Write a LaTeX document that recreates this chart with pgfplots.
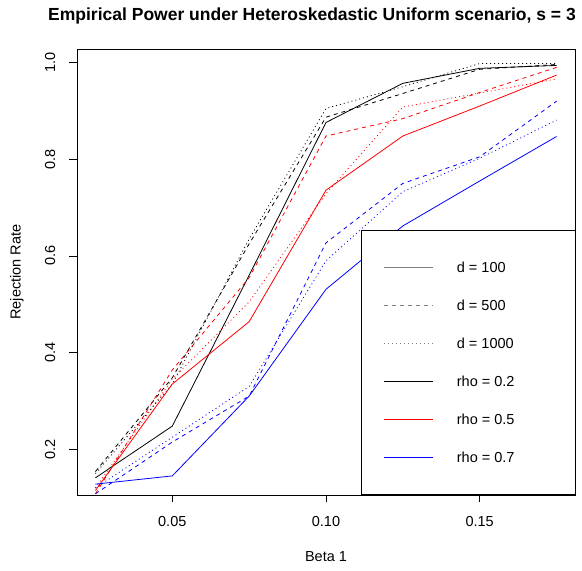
\documentclass[border=0pt]{standalone}
\usepackage{pgfplots}
\pgfplotsset{compat=1.18}
\usepackage{fontspec}
\setmainfont{Liberation Sans}
\definecolor{rgray}{RGB}{128,128,128}
\definecolor{rred}{RGB}{255,0,0}
\definecolor{rblue}{RGB}{0,0,255}
\newcommand{\basefont}{\fontsize{14.5}{17}\selectfont}
\begin{document}
\begin{tikzpicture}
\useasboundingbox (0pt,0pt) rectangle (582pt,571pt);
% title
\node[anchor=base west, inner sep=0pt, font=\bfseries\fontsize{17.5}{20}\selectfont]
  at (48pt,550.7pt) {Empirical Power under Heteroskedastic Uniform scenario, s = 3};
\begin{axis}[
    at={(77pt,76pt)}, anchor=south west,
    scale only axis,
    width=498pt, height=446pt,
    xmin=0.019, xmax=0.181,
    ymin=0.1055, ymax=1.028,
    axis line style={line width=0.8pt},
    tick style={line width=0.8pt, black},
    tick align=outside,
    tick pos=left,
    major tick length=7.5pt,
    xtick={0.05,0.10,0.15},
    xticklabels={0.05,0.10,0.15},
    ytick={0.2,0.4,0.6,0.8,1.0},
    yticklabels={0.2,0.4,0.6,0.8,1.0},
    /pgf/number format/assume math mode=true,
    every tick label/.append style={font=\basefont},
    xticklabel style={anchor=north, inner sep=0pt, yshift=-14pt},
    yticklabel style={xshift=-14pt, rotate=90, anchor=south, inner sep=0pt},
    xlabel={Beta 1},
    ylabel={Rejection Rate},
    every axis x label/.style={at={(axis description cs:0.5,-0.1383)}, anchor=center, font=\basefont},
    every axis y label/.style={at={(axis description cs:-0.1205,0.5)}, rotate=90, anchor=center, font=\basefont},
    every axis plot/.append style={line width=0.8pt},
]
% rho = 0.2
\addplot[black, solid] coordinates {
  (0.025,0.141) (0.05,0.248) (0.075,0.560) (0.10,0.876) (0.125,0.957) (0.15,0.988) (0.175,0.994)};
\addplot[black, dash pattern=on 4pt off 4pt] coordinates {
  (0.025,0.154) (0.05,0.348) (0.075,0.625) (0.10,0.887) (0.125,0.936) (0.15,0.986) (0.175,0.996)};
\addplot[black, dash pattern=on 1pt off 3pt] coordinates {
  (0.025,0.150) (0.05,0.335) (0.075,0.635) (0.10,0.905) (0.125,0.950) (0.15,0.998) (0.175,0.998)};
% rho = 0.5
\addplot[rred, solid] coordinates {
  (0.025,0.115) (0.05,0.335) (0.075,0.464) (0.10,0.736) (0.125,0.848) (0.15,0.910) (0.175,0.974)};
\addplot[rred, dash pattern=on 4pt off 4pt] coordinates {
  (0.025,0.108) (0.05,0.364) (0.075,0.555) (0.10,0.848) (0.125,0.884) (0.15,0.938) (0.175,0.990)};
\addplot[rred, dash pattern=on 1pt off 3pt] coordinates {
  (0.025,0.120) (0.05,0.345) (0.075,0.505) (0.10,0.729) (0.125,0.908) (0.15,0.937) (0.175,0.966)};
% rho = 0.7
\addplot[rblue, solid] coordinates {
  (0.025,0.128) (0.05,0.145) (0.075,0.310) (0.10,0.531) (0.125,0.662) (0.15,0.755) (0.175,0.847)};
\addplot[rblue, dash pattern=on 4pt off 4pt] coordinates {
  (0.025,0.108) (0.05,0.215) (0.075,0.310) (0.10,0.627) (0.125,0.750) (0.15,0.805) (0.175,0.920)};
\addplot[rblue, dash pattern=on 1pt off 3pt] coordinates {
  (0.025,0.120) (0.05,0.225) (0.075,0.330) (0.10,0.590) (0.125,0.733) (0.15,0.802) (0.175,0.881)};
\end{axis}
% legend box, as R's legend() draws it
\draw[line width=0.8pt, fill=white] (361.7pt,77pt) rectangle (575pt,341pt);
\draw[line width=0.9pt, draw=rgray] (384pt,303.3pt) -- (432.7pt,303.3pt);
\draw[line width=0.9pt, draw=rgray, dash pattern=on 4pt off 4pt] (384pt,266pt) -- (432.7pt,266pt);
\draw[line width=0.9pt, draw=rgray, dash pattern=on 1pt off 3pt] (384pt,228pt) -- (432.7pt,228pt);
\draw[line width=0.9pt, draw=black] (384pt,190pt) -- (432.7pt,190pt);
\draw[line width=0.9pt, draw=rred] (384pt,152pt) -- (432.7pt,152pt);
\draw[line width=0.9pt, draw=rblue] (384pt,114pt) -- (432.7pt,114pt);
\begin{scope}[every node/.style={anchor=west, inner sep=0pt, text=black, font=\basefont}]
  \node at (456.7pt,303.3pt) {d = 100};
  \node at (456.7pt,266pt) {d = 500};
  \node at (456.7pt,228pt) {d = 1000};
  \node at (456.7pt,190pt) {rho = 0.2};
  \node at (456.7pt,152pt) {rho = 0.5};
  \node at (456.7pt,114pt) {rho = 0.7};
\end{scope}
\end{tikzpicture}
\end{document}
